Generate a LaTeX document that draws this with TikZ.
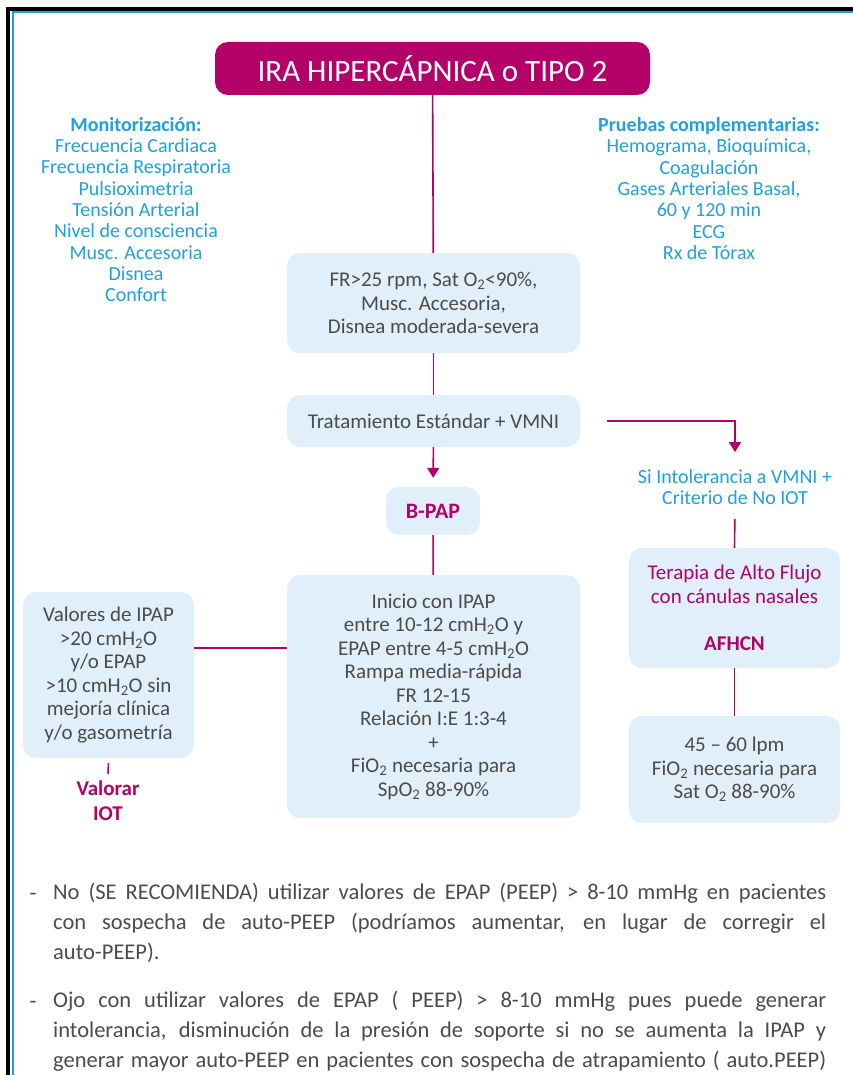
\documentclass[tikz,border=0pt]{standalone}
\usepackage{fontspec}
\setmainfont{Carlito}
\usepackage{xcolor}
\usetikzlibrary{arrows.meta}

\definecolor{rosa}{RGB}{180,0,105}
\definecolor{azul}{RGB}{30,160,225}
\definecolor{celeste}{RGB}{225,239,250}
\definecolor{gris}{RGB}{75,75,75}

\tikzset{
    caja/.style = {rectangle, rounded corners=13pt, fill=celeste, text=gris, align=center,
                   inner sep=0pt, font=\fontsize{21}{23.5}\selectfont},
    titulo/.style = {caja, fill=rosa, text=white, font=\fontsize{31}{33}\selectfont},
    texto/.style = {align=center, text=azul, inner sep=0pt, font=\fontsize{20}{21.3}\selectfont},
    nota/.style = {text=gris, inner sep=0pt, font=\fontsize{22.5}{30}\selectfont},
    flecha/.style = {-{Triangle[width=12pt,length=10pt]}}
}

\begin{document}
\begin{tikzpicture}[x=1pt, y=-1pt]
    \useasboundingbox (0,0) rectangle (853,1075);
    % marco
    \draw[line width=4pt, black] (8,1075) -- (8,9) -- (853,9);
    \draw[line width=2pt, azul] (12.5,1075) -- (12.5,12.5) -- (853,12.5);

    \begin{scope}[every node/.style = {caja}]
        \node[titulo, minimum width=435pt, minimum height=53pt] (ira) at (432.5,68.5) {IRA HIPERCÁPNICA o TIPO 2};
        \node[minimum width=293pt, minimum height=100pt] (fr) at (433.5,303)
            {FR>25 rpm, Sat O\textsubscript{2}<90\%,\\ Musc. Accesoria,\\ Disnea moderada-severa};
        \node[minimum width=293pt, minimum height=52pt] (trat) at (433.5,421) {Tratamiento Estándar + VMNI};
        \node[minimum width=94pt, minimum height=48pt, text=rosa, font=\fontsize{22}{23.5}\selectfont\bfseries] (bpap) at (433,511) {B-PAP};
        \node[minimum width=293pt, minimum height=243pt] (inicio) at (433.5,696.5)
            {Inicio con IPAP\\ entre 10-12 cmH\textsubscript{2}O y\\ EPAP entre 4-5 cmH\textsubscript{2}O\\
             Rampa media-rápida\\ FR 12-15\\ Relación I:E 1:3-4\\ +\\
             FiO\textsubscript{2} necesaria para\\ SpO\textsubscript{2} 88-90\%};
        \node[minimum width=171pt, minimum height=166pt] (valores) at (108.5,675)
            {Valores de IPAP\\ >20 cmH\textsubscript{2}O\\ y/o EPAP\\ >10 cmH\textsubscript{2}O sin\\
             mejoría clínica\\ y/o gasometría};
        \node[minimum width=211pt, minimum height=120pt, text=rosa] (terapia) at (734.5,608)
            {Terapia de Alto Flujo\\ con cánulas nasales\\[23.5pt] \textbf{AFHCN}};
        \node[minimum width=211pt, minimum height=107pt] (sat) at (734.5,769.5)
            {45 – 60 lpm\\ FiO\textsubscript{2} necesaria para\\ Sat O\textsubscript{2} 88-90\%};
    \end{scope}

    \begin{scope}[every node/.style = {texto}]
        \node (monit) at (136,209.5) {\textbf{Monitorización:}\\ Frecuencia Cardiaca\\ Frecuencia Respiratoria\\
            Pulsioximetria\\ Tensión Arterial\\ Nivel de consciencia\\ Musc. Accesoria\\ Disnea\\ Confort};
        \node (pruebas) at (709,188.5) {\textbf{Pruebas complementarias:}\\ Hemograma, Bioquímica,\\ Coagulación\\
            Gases Arteriales Basal,\\ 60 y 120 min\\ ECG\\ Rx de Tórax};
        \node (intol) at (735,487) {Si Intolerancia a VMNI +\\ Criterio de No IOT};
        \node[text=rosa, font=\fontsize{21}{25}\selectfont\bfseries] (valorar) at (108,801) {Valorar\\ IOT};
    \end{scope}

    \begin{scope}[color=rosa, line width=1.6pt]
        \path (ira) edge (fr);
        \path (fr) edge (trat);
        \path (trat) edge[flecha, shorten >=9pt] (bpap);
        \path (bpap) edge (inicio);
        \path (valores.east |- 0,648) edge (inicio.west |- 0,648);
        \path (valores.south) edge[shorten <=5pt, shorten >=7pt] (valorar.north);
        \draw[flecha, shorten <=27pt, shorten >=17pt] (trat.east) -| (intol.north);
        \path (intol.south) edge[shorten <=14pt] (terapia.north);
        \path (terapia) edge (sat);
    \end{scope}

    % notas
    \begin{scope}[every node/.style = {nota}]
        \node[anchor=base] (guion1) at (33,900) {-};
        \node[anchor=north west, text width=773pt, align=justify] (nota1) at (53,883)
            {No (SE RECOMIENDA) utilizar valores de EPAP (PEEP) > 8-10 mmHg en pacientes\linebreak
             con sospecha de auto-PEEP (podríamos aumentar, en lugar de corregir el\linebreak auto-PEEP).};
        \node[anchor=base] (guion2) at (33,1008) {-};
        \node[anchor=north west, text width=773pt, align=justify] (nota2) at (53,991)
            {Ojo con utilizar valores de EPAP ( PEEP) > 8-10 mmHg pues puede generar\linebreak
             intolerancia, disminución de la presión de soporte si no se aumenta la IPAP y\linebreak
             generar mayor auto-PEEP en pacientes con sospecha de atrapamiento ( auto.PEEP){\parfillskip=0pt\par}};
    \end{scope}
\end{tikzpicture}
\end{document}
